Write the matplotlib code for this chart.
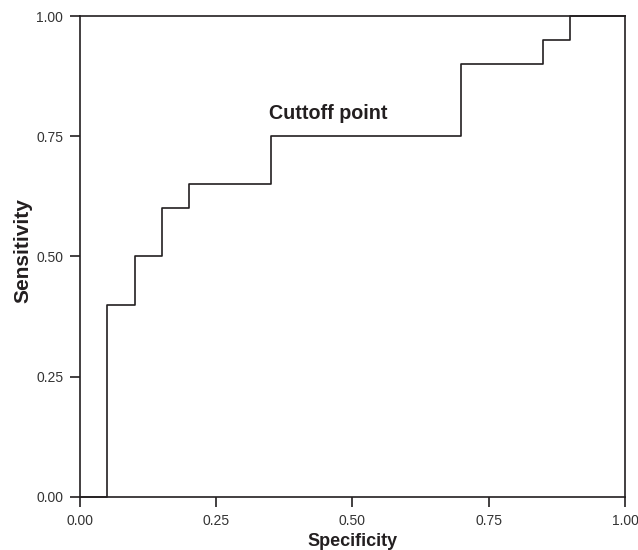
import matplotlib
matplotlib.use("Agg")
import matplotlib.pyplot as plt

plt.rcParams['font.family'] = ['Liberation Sans', 'DejaVu Sans']

# ROC steps (specificity axis as drawn, sensitivity)
spec = [0.00, 0.05, 0.05, 0.10, 0.10, 0.15, 0.15, 0.20, 0.20, 0.35, 0.35,
        0.70, 0.70, 0.85, 0.85, 0.90, 0.90, 1.00]
sens = [0.00, 0.00, 0.40, 0.40, 0.50, 0.50, 0.60, 0.60, 0.65, 0.65, 0.75,
        0.75, 0.90, 0.90, 0.95, 0.95, 1.00, 1.00]
ticks = [0.00, 0.25, 0.50, 0.75, 1.00]
tick_labels = ["0.00", "0.25", "0.50", "0.75", "1.00"]

ink = '#231f20'

fig = plt.figure(figsize=(6.38, 5.5), dpi=100)
ax = fig.add_axes([0.1254, 0.0964, 0.8542, 0.8745])

ax.plot(spec, sens, color=ink, lw=1.2, clip_on=False)
ax.text(0.347, 0.798, "Cuttoff point", ha='left', va='center',
        fontsize=14.2, fontweight='bold', color=ink)

ax.set_xlim(0, 1)
ax.set_ylim(0, 1)
ax.set_xticks(ticks)
ax.set_xticklabels(tick_labels)
ax.set_yticks(ticks)
ax.set_yticklabels(tick_labels)
ax.tick_params(direction='out', length=7, width=1.2, colors=ink,
               labelsize=10, labelcolor='#333333', pad=5)

for s in ax.spines.values():
    s.set_color(ink)
    s.set_linewidth(1.2)

ax.set_xlabel("Specificity", fontsize=13, fontweight='bold', color=ink, labelpad=4)
ax.set_ylabel("Sensitivity", fontsize=15, fontweight='bold', color=ink)
ax.yaxis.set_label_coords(-0.088, 0.513)

fig.savefig("out.png", dpi=100)
